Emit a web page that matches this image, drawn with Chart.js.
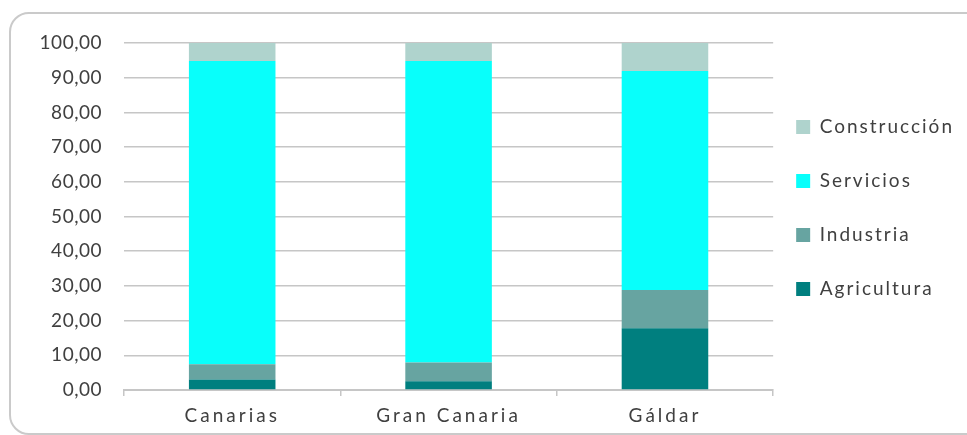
<!DOCTYPE html>
<html>
<head>
<meta charset="utf-8">
<script src="https://cdn.jsdelivr.net/npm/chart.js@4"></script>
<style>
  html, body { margin: 0; padding: 0; background: #fff; overflow: hidden; }
  #wrap { position: relative; width: 967px; height: 435px; overflow: hidden; }
  #frame { position: absolute; left: 9px; top: 12px; width: 1010px; height: 419px;
           border: 2px solid #cacaca; border-radius: 20px; }
  canvas { position: absolute; left: 0; top: 0; }
</style>
</head>
<body>
<div id="wrap">
  <div id="frame"></div>
  <canvas id="chart" width="967" height="435"></canvas>
</div>
<script>
// categorías y series (porcentajes)
const categories = ['Canarias', 'Gran Canaria', 'Gáldar'];
const agricultura = [3.0, 2.5, 17.8];
const industria = [4.4, 5.4, 11.0];
const servicios = [87.4, 86.9, 63.1];
const construccion = [5.2, 5.2, 8.1];
const yTicks = [0, 10, 20, 30, 40, 50, 60, 70, 80, 90, 100];

const textColor = '#404040';
const gridColor = '#c6c6c6';

// espaciado de letras como en el original
const spacingPlugin = {
    id: 'spacing',
    beforeUpdate(chart) { chart.ctx.letterSpacing = '2px'; },
    beforeLayout(chart) {
        // la leyenda ocupa algo menos de ancho
        const lg = chart.legend;
        if (lg && !lg._wrapped) {
            const of = lg.fit;
            lg.fit = function () { of.call(this); this.width -= 9; };
            lg._wrapped = true;
        }
    },
    beforeDraw(chart) {
        chart.ctx.letterSpacing = '2px';
        const x = chart.scales.x, y = chart.scales.y;
        if (!x._wrapped) {
            const ox = x.drawLabels;
            x.drawLabels = function (a) { const c = this.ctx; c.letterSpacing = '3px'; ox.call(this, a); c.letterSpacing = '2px'; };
            x._wrapped = true;
        }
        if (!y._wrapped) {
            const oy = y.drawLabels;
            y.drawLabels = function (a) { const c = this.ctx; c.letterSpacing = '0.5px'; oy.call(this, a); c.letterSpacing = '2px'; };
            y._wrapped = true;
        }
    },
    afterLayout(chart) {
        // colocar la leyenda como en el original
        const lg = chart.legend;
        lg.left -= 12;
        lg.top -= 31;
        lg.bottom -= 31;
    }
};

new Chart(document.getElementById('chart'), {
    type: 'bar',
    data: {
        labels: categories,
        datasets: [
            { label: 'Agricultura', data: agricultura, backgroundColor: '#007f7f' },
            { label: 'Industria', data: industria, backgroundColor: '#67a4a1' },
            { label: 'Servicios', data: servicios, backgroundColor: '#08fffb' },
            { label: 'Construcción', data: construccion, backgroundColor: '#afd3cd' }
        ]
    },
    options: {
        responsive: false,
        animation: false,
        barPercentage: 0.4,
        categoryPercentage: 1,
        layout: { padding: { left: 0, top: 43, right: 0, bottom: 0 } },
        plugins: {
            tooltip: { enabled: false },
            legend: {
                position: 'right',
                reverse: true,
                labels: {
                    boxWidth: 14,
                    boxHeight: 14,
                    padding: 35,
                    color: textColor,
                    font: { family: 'Lato', size: 19 }
                }
            }
        },
        scales: {
            x: {
                stacked: true,
                afterFit(s) { s.height = 45; },
                grid: { offset: true, drawOnChartArea: false, drawTicks: true, tickLength: 6, color: gridColor, lineWidth: 1.5 },
                border: { color: gridColor, width: 2 },
                ticks: { color: textColor, padding: 8, font: { family: 'Lato', size: 19 } }
            },
            y: {
                stacked: true,
                min: 0,
                max: 100,
                afterFit(s) { s.width = 124; },
                afterBuildTicks(s) { s.ticks = yTicks.map(v => ({ value: v })); },
                grid: { drawTicks: false, color: gridColor, lineWidth: 1.5 },
                border: { display: false },
                ticks: {
                    color: textColor,
                    padding: 22,
                    font: { family: 'Lato', size: 19 },
                    callback: v => v.toFixed(2).replace('.', ',')
                }
            }
        }
    },
    plugins: [spacingPlugin]
});
</script>
</body>
</html>
